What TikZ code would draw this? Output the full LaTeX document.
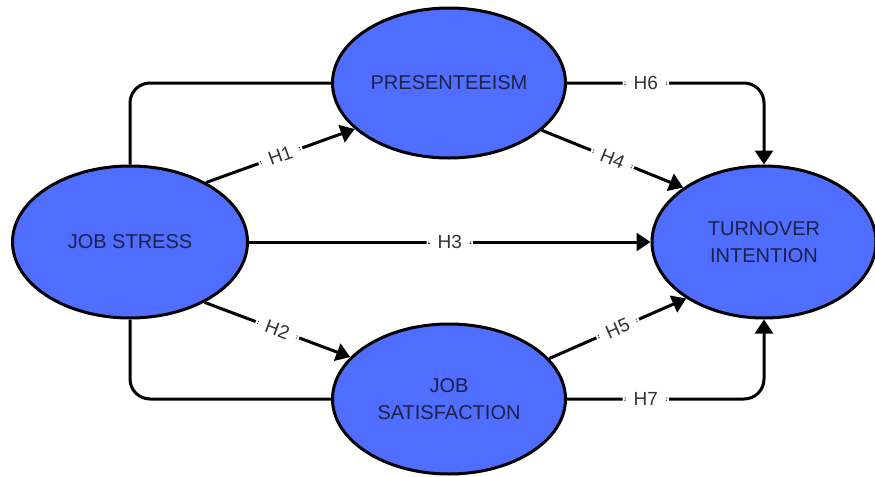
\documentclass[tikz,border=0pt]{standalone}
\usepackage{fontspec}
\setmainfont{Liberation Sans}
\usetikzlibrary{shapes.geometric,arrows.meta}
\definecolor{varblue}{RGB}{79,109,254}
\definecolor{vartext}{RGB}{30,32,70}
\begin{document}
\begin{tikzpicture}[x=0.5pt,y=-0.5pt,
  var/.style={ellipse, draw=black, line width=1.5pt, fill=varblue, text=vartext,
    align=center, font=\fontsize{10}{13.5}\selectfont, inner sep=0pt},
  link/.style={line width=1.5pt, draw=black, rounded corners=10pt},
  hyp/.style={link, -{Triangle[length=7pt,width=9pt]}},
  hlabel/.style={fill=white, inner xsep=5.5pt, inner ysep=2pt,
    font=\fontsize{9.5}{10}\selectfont, text=black!80}]
\useasboundingbox (0,0) rectangle (875,477);

% Variables
\node[var, minimum width=117.5pt, minimum height=76pt] (js) at (130,242) {JOB STRESS};
\node[var, minimum width=116.5pt, minimum height=75pt] (pres) at (449,83) {PRESENTEEISM};
\node[var, minimum width=116.5pt, minimum height=75pt] (jsat) at (449,399) {JOB\\SATISFACTION};
\node[var, minimum width=112pt, minimum height=76pt] (ti) at (764,242) {TURNOVER\\INTENTION};

% Plain links
\draw[link] (js.north) |- (pres.west);
\draw[link] (js.south) |- (jsat.west);

% Hypotheses
\draw[hyp] (js.38) -- node[hlabel, sloped] (h1) {H1} (pres.206);
\draw[hyp] (js.-39) -- node[hlabel, sloped] (h2) {H2} (jsat.157);
\draw[hyp] (js.east) -- node[hlabel] (h3) {H3} (ti.west);
\draw[hyp] (pres.-27) -- node[hlabel, sloped] (h4) {H4} (ti.146);
\draw[hyp] (jsat.22) -- node[hlabel, sloped] (h5) {H5} (ti.216);
\draw[hyp] (pres.east) -| node[hlabel, pos=0.2] (h6) {H6} (ti.north);
\draw[hyp] (jsat.east) -| node[hlabel, pos=0.2] (h7) {H7} (ti.south);
\end{tikzpicture}
\end{document}
